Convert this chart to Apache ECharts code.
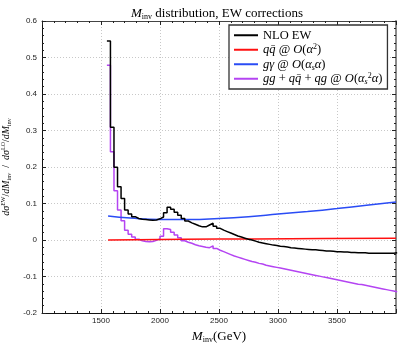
<!DOCTYPE html>
<html>
<head>
<meta charset="utf-8">
<script src="https://cdn.jsdelivr.net/npm/echarts@6/dist/echarts.min.js"></script>
<style>
  html, body { margin: 0; padding: 0; background: #fff; }
  #chart { width: 403px; height: 343px; }
</style>
</head>
<body>
<div id="chart"></div>
<script>
// histogram bins (GeV)
const BIN_START = 1550;
const BIN_WIDTH = 30;

// NLO EW (black step)
const nloEW = [
  0.545, 0.309, 0.199, 0.146, 0.114, 0.082, 0.071, 0.064, 0.059, 0.057,
  0.056, 0.055, 0.054, 0.055, 0.058, 0.063, 0.075, 0.090, 0.084, 0.076,
  0.068, 0.059, 0.052, 0.047, 0.043, 0.039, 0.036, 0.036, 0.041, 0.046,
  0.038, 0.032, 0.027, 0.023, 0.019, 0.015, 0.011, 0.008, 0.005, 0.002,
  0.000, -0.003, -0.006, -0.008, -0.010, -0.012, -0.014, -0.015, -0.017, -0.018,
  -0.019, -0.021, -0.022, -0.023, -0.024, -0.025, -0.026, -0.027, -0.027, -0.028,
  -0.029, -0.030, -0.030, -0.031, -0.032, -0.032, -0.033, -0.033, -0.034, -0.034,
  -0.035, -0.035, -0.035, -0.036, -0.036, -0.036, -0.036, -0.036, -0.036, -0.036,
  -0.036, -0.035
];

// gg + qq + qg @ O(as^2 a) (purple step)
const ggQQ = [
  0.479, 0.242, 0.135, 0.082, 0.053, 0.027, 0.016, 0.008, 0.002, -0.002,
  -0.004, -0.005, -0.004, -0.001, 0.003, 0.010, 0.031, 0.029, 0.021, 0.014,
  0.006, -0.002, -0.006, -0.009, -0.013, -0.016, -0.018, -0.020, -0.021, -0.016,
  -0.023, -0.028, -0.032, -0.036, -0.040, -0.044, -0.047, -0.050, -0.053, -0.056,
  -0.059, -0.061, -0.064, -0.066, -0.069, -0.071, -0.073, -0.075, -0.077, -0.079,
  -0.081, -0.083, -0.085, -0.087, -0.089, -0.091, -0.093, -0.095, -0.097, -0.099,
  -0.101, -0.103, -0.105, -0.107, -0.109, -0.111, -0.113, -0.115, -0.117, -0.119,
  -0.121, -0.122, -0.124, -0.126, -0.128, -0.130, -0.132, -0.134, -0.136, -0.138,
  -0.140, -0.142
];

// g gamma @ O(as a) (blue, smooth)
const gammaM = [1560, 1750, 2000, 2250, 2500, 2750, 3000, 3250, 3500, 3750, 4000];
const gammaV = [0.066, 0.060, 0.056, 0.056, 0.059, 0.064, 0.071, 0.078, 0.086, 0.095, 0.104];

// q qbar @ O(a^2) (red)
const qqM = [1560, 1800, 2200, 2800, 3400, 4000];
const qqV = [0.000, 0.001, 0.002, 0.003, 0.004, 0.005];

const xTicks = [1500, 2000, 2500, 3000, 3500];

const SERIF = 'Liberation Serif';
const SANS = 'Liberation Sans';

const toSteps = (vals) => {
  const pts = vals.map((v, i) => [BIN_START + i * BIN_WIDTH, v]);
  pts.push([BIN_START + vals.length * BIN_WIDTH, vals[vals.length - 1]]);
  return pts;
};
const zip = (xs, ys) => xs.map((x, i) => [x, ys[i]]);

const mathRich = (size) => {
  const base = { fontFamily: SERIF, fontWeight: 'normal', color: '#000' };
  const small = Math.round(size * 0.62);
  return {
    r: Object.assign({}, base, { fontSize: size, lineHeight: size + 2 }),
    it: Object.assign({}, base, { fontSize: size, fontStyle: 'italic', lineHeight: size + 2 }),
    sup: Object.assign({}, base, { fontSize: small, lineHeight: small, verticalAlign: 'top' }),
    sub: Object.assign({}, base, { fontSize: small, lineHeight: small, verticalAlign: 'bottom' }),
    subi: Object.assign({}, base, { fontSize: small, fontStyle: 'italic', lineHeight: small, verticalAlign: 'bottom' })
  };
};

const NAMES = ['NLO EW', 'qq', 'gγ', 'gg+qq+qg'];
const LEGEND_TEXT = {
  'NLO EW': '{r|NLO EW}',
  'qq': '{it|qq̄}{r| @ }{it|O}{r|(}{it|α}{sup|2}{r|)}',
  'gγ': '{it|gγ}{r| @ }{it|O}{r|(}{it|α}{subi|s}{it|α}{r|)}',
  'gg+qq+qg': '{it|gg}{r| + }{it|qq̄}{r| + }{it|qg}{r| @ }{it|O}{r|(}{it|α}{subi|s}{sup|2}{it|α}{r|)}'
};
const COLORS = ['#000000', '#ff1010', '#2a4cf5', '#b444f2'];

const chart = echarts.init(document.getElementById('chart'));

const majorAxisCommon = {
  type: 'value',
  min: 1000,
  max: 4000,
  interval: 500,
  axisTick: { show: true, inside: true, length: 4, lineStyle: { color: '#222' } },
  minorTick: { show: true, splitNumber: 5, length: 2, lineStyle: { color: '#222' } },
  splitLine: { show: false }
};

const option = {
  animation: false,
  backgroundColor: '#fff',
  title: {
    text: '{it|M}{sub|inv}{r| distribution, EW corrections}',
    left: 126,
    top: 1,
    textStyle: { fontWeight: 'normal', rich: mathRich(13) }
  },
  legend: {
    orient: 'vertical',
    left: 229,
    top: 25,
    padding: [3, 5, 3, 5],
    itemGap: 0,
    itemWidth: 24,
    itemHeight: 2,
    icon: 'rect',
    borderColor: '#333',
    borderWidth: 1.3,
    backgroundColor: '#fff',
    data: NAMES,
    formatter: (name) => LEGEND_TEXT[name],
    textStyle: { rich: mathRich(12.5), lineHeight: 14 }
  },
  grid: { left: 42, right: 7, top: 21, bottom: 30, outerBoundsMode: 'none' },
  xAxis: [
    Object.assign({}, majorAxisCommon, {
      position: 'bottom',
      axisLine: { onZero: false, lineStyle: { color: '#111', width: 1 } },
      axisLabel: {
        fontFamily: SANS, fontSize: 8, color: '#222', margin: 4,
        formatter: (v) => (xTicks.indexOf(v) >= 0 ? String(v) : '')
      },
      splitLine: { show: true, lineStyle: { color: '#c8c8c8', type: [1, 2], width: 1 } },
      name: '{it|M}{sub|inv}{r|(GeV)}',
      nameLocation: 'middle',
      nameGap: 15,
      nameTextStyle: { rich: mathRich(13) }
    }),
    Object.assign({}, majorAxisCommon, {
      position: 'top',
      axisLine: { onZero: false, lineStyle: { color: '#444', width: 1 } },
      axisLabel: { show: false }
    })
  ],
  yAxis: [
    {
      type: 'value',
      min: -0.2,
      max: 0.6,
      interval: 0.1,
      position: 'left',
      axisLine: { show: true, onZero: false, lineStyle: { color: '#111', width: 1 } },
      axisTick: { show: true, inside: true, length: 4, lineStyle: { color: '#222' } },
      minorTick: { show: true, splitNumber: 5, length: 2, lineStyle: { color: '#222' } },
      axisLabel: { fontFamily: SANS, fontSize: 8, color: '#222', margin: 5 },
      splitLine: { show: true, lineStyle: { color: '#c8c8c8', type: [1, 2], width: 1 } },
      name: '{it|dσ}{sup|EW}{r|/}{it|dM}{sub|inv}{r|  /  }{it|dσ}{sup|LO}{r|/}{it|dM}{sub|inv}',
      nameLocation: 'middle',
      nameRotate: 90,
      nameGap: 25,
      nameTextStyle: { rich: mathRich(10) }
    },
    {
      type: 'value',
      min: -0.2,
      max: 0.6,
      interval: 0.1,
      position: 'right',
      axisLine: { show: true, onZero: false, lineStyle: { color: '#8a8a8a', width: 2 } },
      axisTick: { show: true, inside: true, length: 4, lineStyle: { color: '#222' } },
      minorTick: { show: true, splitNumber: 5, length: 2, lineStyle: { color: '#222' } },
      axisLabel: { show: false },
      splitLine: { show: false }
    }
  ],
  series: [
    {
      name: NAMES[0], type: 'line', step: 'end', showSymbol: false,
      data: toSteps(nloEW), color: COLORS[0],
      lineStyle: { width: 1.5, color: COLORS[0] }, z: 4
    },
    {
      name: NAMES[1], type: 'line', showSymbol: false, smooth: true,
      data: zip(qqM, qqV), color: COLORS[1],
      lineStyle: { width: 1.5, color: COLORS[1] }, z: 3
    },
    {
      name: NAMES[2], type: 'line', showSymbol: false, smooth: true,
      data: zip(gammaM, gammaV), color: COLORS[2],
      lineStyle: { width: 1.5, color: COLORS[2] }, z: 3
    },
    {
      name: NAMES[3], type: 'line', step: 'end', showSymbol: false,
      data: toSteps(ggQQ), color: COLORS[3],
      lineStyle: { width: 1.5, color: COLORS[3] }, z: 2
    }
  ]
};

chart.setOption(option);
</script>
</body>
</html>
